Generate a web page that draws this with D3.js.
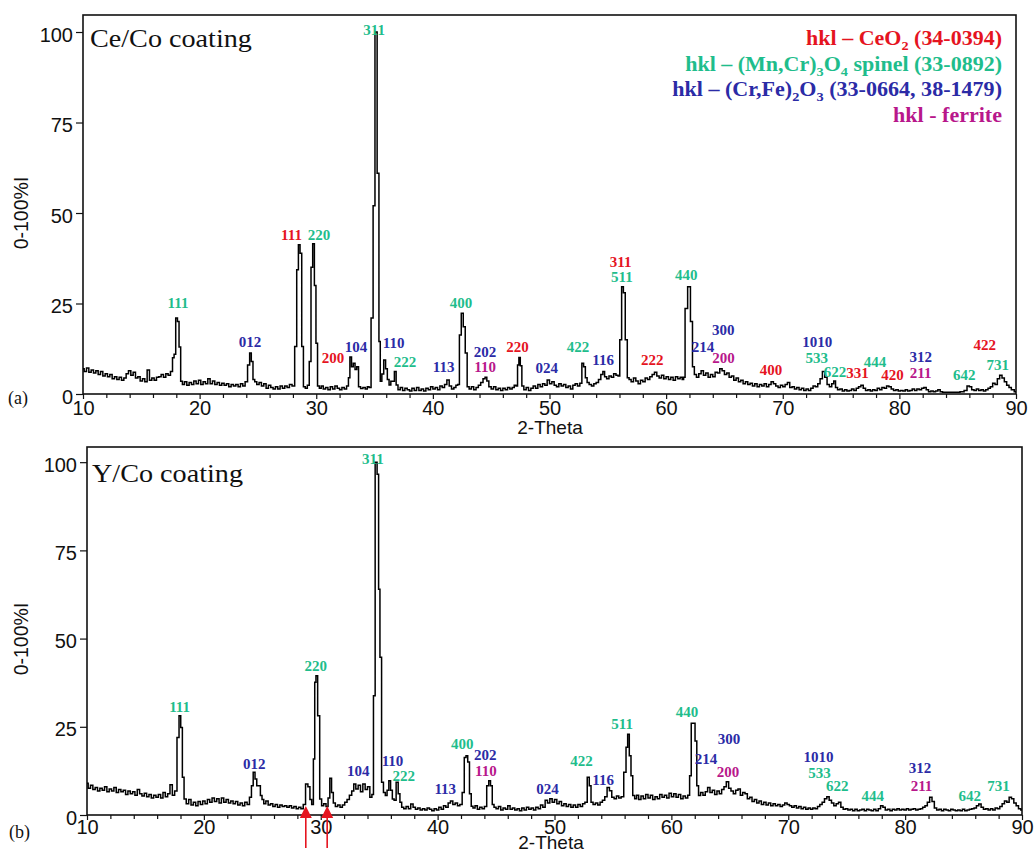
<!DOCTYPE html>
<html><head><meta charset="utf-8">
<script src="https://cdn.jsdelivr.net/npm/d3@7"></script>
<style>
body{margin:0;background:#fff}
svg{display:block}
.tick line{stroke:#111;stroke-width:1.2}
.tick text{font-family:"Liberation Sans",Arial,sans-serif;font-size:20px;fill:#111}
</style></head>
<body><svg id="chart" width="1034" height="854"></svg>
<script>
// ---------- data ----------
const xTickLabels = [10,20,30,40,50,60,70,80,90];
const xMinorTicks = [12,14,16,18,22,24,26,28,32,34,36,38,42,44,46,48,52,54,56,58,62,64,66,68,72,74,76,78,82,84,86,88];
const yTickLabels = [0,25,50,75,100];

// panel (a) Ce/Co coating : [2-theta, intensity %]
const scanA = [
[10.0,7.0],[10.2,6.2],[10.4,7.2],[10.6,6.0],[10.8,6.6],[11.0,5.8],[11.2,6.4],[11.4,5.4],[11.6,6.2],[11.8,5.0],
[12.0,5.6],[12.2,4.8],[12.4,5.4],[12.6,4.2],[12.8,4.8],[13.0,4.0],[13.2,4.6],[13.4,3.8],[13.6,4.4],[13.8,5.6],
[14.0,6.4],[14.2,5.2],[14.4,6.0],[14.6,4.4],[14.8,4.8],[15.0,3.6],[15.2,4.2],[15.4,3.4],[15.6,6.6],[15.8,3.8],
[16.0,4.4],[16.2,3.8],[16.4,4.6],[16.6,4.8],[16.8,5.4],[17.0,4.6],[17.2,5.6],[17.4,5.2],[17.6,6.2],[17.75,10],
[17.87,11],[18.03,21],[18.17,20],[18.3,13],[18.45,3.5],[18.6,2.6],[18.8,3.4],[19.0,2.4],[19.2,3.2],[19.4,2.6],
[19.6,3.6],[19.8,2.8],[20.0,3.8],[20.2,2.6],[20.4,3.4],[20.6,2.8],[20.8,4.2],[21.0,2.8],[21.2,3.6],[21.4,2.6],
[21.6,3.2],[21.8,2.4],[22.0,3.0],[22.2,2.4],[22.4,2.8],[22.6,2.0],[22.8,2.6],[23.0,2.2],[23.2,2.6],[23.4,2.0],
[23.6,2.8],[23.8,2.2],[24.0,3.4],[24.22,8.0],[24.36,11.3],[24.5,9.0],[24.65,4.0],[24.8,3.4],[25.0,2.6],[25.2,3.2],
[25.4,2.2],[25.6,2.8],[25.8,1.6],[26.0,2.4],[26.2,1.8],[26.4,1.4],[26.6,2.0],[26.8,1.4],[27.0,2.2],[27.2,1.6],
[27.4,2.2],[27.6,1.8],[27.8,2.6],[28.05,2.2],[28.25,13.1],[28.4,34.3],[28.54,41.2],[28.68,38.9],[28.83,13.1],[28.97,2.0],
[29.15,1.6],[29.32,2.4],[29.48,9],[29.62,35],[29.77,41.5],[29.91,30],[30.04,14],[30.18,2.2],[30.35,1.6],[30.5,2.2],
[30.7,1.4],[30.9,1.8],[31.1,1.2],[31.3,2.0],[31.5,1.4],[31.7,2.2],[31.9,1.6],[32.1,1.2],[32.3,1.8],[32.5,1.4],
[32.7,2.2],[32.82,4.5],[32.95,10.2],[33.1,7.5],[33.25,8.5],[33.4,6.8],[33.55,7.5],[33.7,2.0],[33.9,1.5],[34.1,1.8],
[34.3,1.4],[34.45,2.0],[34.6,1.8],[34.8,21],[34.95,52],[35.12,100],[35.32,61],[35.43,14.5],[35.55,3.5],[35.7,5.5],
[35.87,9.4],[36.02,7.0],[36.17,4.0],[36.32,2.5],[36.47,3.5],[36.62,3.5],[36.78,6.2],[36.92,2.5],[37.1,1.2],[37.3,1.8],
[37.5,1.0],[37.7,1.6],[37.9,1.2],[38.1,0.8],[38.3,1.6],[38.5,1.0],[38.7,1.8],[38.9,1.0],[39.1,1.4],[39.3,0.8],
[39.5,1.6],[39.7,1.2],[39.9,2.0],[40.1,1.4],[40.3,1.8],[40.5,1.2],[40.7,2.2],[40.9,1.8],[41.1,2.6],[41.3,3.9],
[41.5,2.2],[41.7,1.4],[41.9,1.8],[42.05,2.4],[42.2,2.6],[42.35,16.3],[42.52,22.3],[42.69,18.6],[42.86,11.3],[43.02,2.0],
[43.2,1.4],[43.4,2.0],[43.6,1.2],[43.8,1.8],[44.0,2.4],[44.2,3.2],[44.4,4.2],[44.55,4.6],[44.7,3.6],[44.9,2.0],
[45.1,1.4],[45.3,2.0],[45.5,1.2],[45.7,1.6],[45.9,1.0],[46.1,1.6],[46.3,1.2],[46.5,1.8],[46.7,1.4],[46.9,1.8],
[47.05,2.4],[47.2,2.2],[47.32,8.0],[47.43,10.1],[47.56,7.8],[47.7,2.2],[47.9,1.2],[48.1,1.8],[48.3,1.0],[48.5,1.6],
[48.7,2.2],[48.9,1.6],[49.1,2.6],[49.3,2.0],[49.5,2.8],[49.7,2.4],[49.9,3.9],[50.1,2.8],[50.3,3.4],[50.5,2.4],
[50.7,2.0],[50.9,2.8],[51.1,2.2],[51.3,2.6],[51.5,1.8],[51.7,2.2],[51.9,1.4],[52.1,2.4],[52.3,2.8],[52.5,2.2],
[52.7,3.0],[52.85,8.5],[53.0,7.5],[53.15,4.5],[53.3,3.2],[53.5,2.6],[53.7,2.2],[53.9,2.8],[54.1,3.2],[54.3,4.0],
[54.5,5.4],[54.65,6.2],[54.8,4.8],[55.0,4.2],[55.2,5.0],[55.4,4.6],[55.6,5.6],[55.8,5.2],[55.95,5.0],[56.1,15],
[56.27,29.6],[56.4,28],[56.59,15],[56.75,4.5],[56.9,4.0],[57.1,3.4],[57.3,4.4],[57.5,3.6],[57.7,2.8],[57.9,3.8],
[58.1,3.4],[58.3,4.4],[58.5,4.0],[58.7,4.8],[58.9,5.4],[59.1,6.0],[59.3,5.0],[59.5,4.4],[59.7,5.2],[59.9,4.2],
[60.1,4.8],[60.3,4.0],[60.5,4.6],[60.7,3.8],[60.9,4.8],[61.1,4.2],[61.3,4.6],[61.45,4.0],[61.55,4.6],[61.7,23.6],
[61.99,29.6],[62.18,20],[62.34,7.5],[62.5,5.4],[62.7,4.6],[62.9,5.6],[63.1,6.4],[63.3,5.2],[63.5,5.8],[63.7,4.6],
[63.9,5.4],[64.1,4.8],[64.3,6.0],[64.5,5.8],[64.7,7.0],[64.9,6.4],[65.1,5.4],[65.3,5.8],[65.5,4.6],[65.7,5.0],
[65.9,3.8],[66.1,4.4],[66.3,3.4],[66.5,3.8],[66.7,2.8],[66.9,3.4],[67.1,2.6],[67.3,3.0],[67.5,2.2],[67.7,2.8],
[67.9,2.0],[68.1,2.6],[68.3,2.2],[68.5,2.8],[68.7,2.0],[68.9,2.6],[69.1,3.4],[69.3,2.8],[69.5,2.2],[69.7,1.8],
[69.9,2.4],[70.1,2.0],[70.3,2.6],[70.5,3.2],[70.7,1.8],[70.9,2.0],[71.1,1.4],[71.3,1.8],[71.5,1.2],[71.7,1.6],
[71.9,1.0],[72.1,1.4],[72.3,1.0],[72.5,1.6],[72.7,2.2],[72.9,2.0],[73.1,2.8],[73.3,4.2],[73.5,6.2],[73.7,4.6],
[73.9,2.6],[74.1,2.0],[74.3,2.8],[74.45,3.6],[74.6,1.8],[74.8,1.2],[75.0,1.4],[75.2,0.8],[75.4,1.2],[75.6,0.8],
[75.8,1.0],[76.0,1.4],[76.2,1.0],[76.4,1.6],[76.6,2.0],[76.8,2.4],[77.0,1.6],[77.2,1.0],[77.4,1.2],[77.6,0.8],
[77.8,1.2],[78.0,1.0],[78.2,1.6],[78.4,1.2],[78.6,1.8],[78.8,1.6],[79.0,2.2],[79.2,2.0],[79.4,1.4],[79.6,1.0],
[79.8,1.2],[80.0,0.8],[80.2,1.0],[80.4,0.8],[80.6,1.2],[80.8,0.8],[81.0,1.0],[81.2,1.4],[81.4,1.0],[81.6,1.4],
[81.8,1.2],[82.0,1.6],[82.2,1.8],[82.4,1.2],[82.6,0.6],[82.8,0.8],[83.0,0.6],[83.2,0.8],[83.4,1.2],[83.6,0.6],
[83.8,0.5],[84.2,0.5],[84.6,0.5],[85.0,0.5],[85.4,0.6],[85.7,1.0],[85.9,2.2],[86.1,2.0],[86.3,1.2],[86.5,1.0],
[86.7,1.4],[86.9,1.0],[87.1,1.2],[87.3,0.8],[87.5,1.2],[87.7,1.6],[87.9,2.0],[88.1,3.0],[88.3,2.6],[88.5,4.2],
[88.7,5.2],[88.9,4.4],[89.1,3.4],[89.3,2.4],[89.5,1.8],[89.7,1.2],[90.0,0.6]
];

// panel (b) Y/Co coating : [2-theta, intensity %]
const scanB = [
[10.0,9.0],[10.2,7.6],[10.4,8.4],[10.6,7.2],[10.8,7.8],[11.0,6.8],[11.2,7.6],[11.4,7.0],[11.6,8.0],[11.8,6.6],
[12.0,7.4],[12.2,6.8],[12.4,7.8],[12.6,6.4],[12.8,7.2],[13.0,6.6],[13.2,7.0],[13.4,5.8],[13.6,6.8],[13.8,6.0],
[14.0,6.6],[14.2,5.6],[14.4,7.2],[14.6,6.0],[14.8,5.4],[15.0,6.2],[15.2,5.2],[15.4,5.8],[15.6,4.8],[15.8,5.6],
[16.0,5.0],[16.2,5.8],[16.4,4.8],[16.6,6.4],[16.8,5.2],[17.0,6.0],[17.2,8.6],[17.4,5.6],[17.6,6.8],[17.8,22],
[17.95,28.1],[18.09,24.8],[18.23,10.7],[18.38,4.5],[18.6,3.2],[18.8,4.4],[19.0,2.8],[19.2,3.6],[19.4,2.6],[19.6,3.8],
[19.8,3.0],[20.0,4.0],[20.2,3.2],[20.4,4.4],[20.6,3.6],[20.8,4.8],[21.0,3.8],[21.2,4.6],[21.4,3.4],[21.6,4.8],
[21.8,3.6],[22.0,4.4],[22.2,3.4],[22.4,4.0],[22.6,3.2],[22.8,3.8],[23.0,2.8],[23.2,3.4],[23.4,2.6],[23.6,3.6],
[23.8,3.0],[24.0,5.0],[24.14,8.3],[24.3,12.1],[24.45,10.2],[24.6,8.3],[24.77,8.3],[24.9,5.5],[25.05,4.4],[25.2,3.2],
[25.4,4.0],[25.6,2.8],[25.8,3.2],[26.0,2.4],[26.2,3.0],[26.4,2.2],[26.6,2.8],[26.8,2.4],[27.0,2.6],[27.2,2.2],
[27.4,2.6],[27.6,2.0],[27.8,2.4],[28.0,1.8],[28.2,2.2],[28.4,1.8],[28.6,3.0],[28.8,8.8],[29.0,8.0],[29.15,4.4],
[29.3,3.0],[29.44,15.9],[29.53,37.6],[29.65,39.5],[29.82,28.1],[30.0,4.5],[30.15,2.6],[30.35,3.2],[30.55,2.4],[30.7,4.8],
[30.85,10.4],[31.0,6.4],[31.15,3.4],[31.35,2.4],[31.55,2.8],[31.75,2.2],[31.95,2.8],[32.15,3.6],[32.35,4.4],[32.55,5.6],
[32.75,6.8],[32.9,8.8],[33.1,7.4],[33.3,8.4],[33.5,6.6],[33.7,8.8],[33.9,7.2],[34.1,8.0],[34.3,5.0],[34.45,5.8],
[34.57,33.8],[34.74,100],[34.9,96.6],[35.0,64],[35.13,44.7],[35.28,9.3],[35.45,6.4],[35.6,5.5],[35.75,7.0],[35.9,9.7],
[36.05,7.0],[36.2,4.5],[36.35,4.2],[36.55,9.3],[36.7,6.0],[36.85,3.6],[37.0,2.2],[37.2,1.8],[37.4,2.4],[37.6,1.8],
[37.8,3.1],[38.0,2.2],[38.2,1.6],[38.4,2.0],[38.6,1.4],[38.8,1.8],[39.0,1.4],[39.2,2.0],[39.4,1.6],[39.6,1.2],
[39.8,1.8],[40.0,1.4],[40.2,2.2],[40.4,1.6],[40.6,2.6],[40.8,2.2],[41.0,3.4],[41.2,4.0],[41.4,3.0],[41.6,3.4],
[41.8,2.6],[42.0,3.0],[42.2,6.4],[42.36,16.3],[42.5,16.8],[42.65,15.0],[42.8,6.0],[42.95,2.5],[43.1,2.0],[43.3,2.6],
[43.5,1.6],[43.7,2.2],[43.9,1.8],[44.1,2.4],[44.3,8.3],[44.45,9.7],[44.6,8.3],[44.75,3.0],[44.9,2.2],[45.1,1.8],
[45.3,2.4],[45.5,1.4],[45.7,2.0],[45.9,1.6],[46.1,2.6],[46.3,1.6],[46.5,2.0],[46.7,1.4],[46.9,1.8],[47.1,1.2],
[47.3,2.0],[47.5,1.4],[47.7,2.2],[47.9,1.6],[48.1,2.0],[48.3,1.4],[48.5,2.2],[48.7,1.8],[48.9,2.8],[49.1,2.2],
[49.3,4.2],[49.5,3.4],[49.7,4.6],[49.9,3.6],[50.1,4.4],[50.3,3.2],[50.5,3.8],[50.7,2.6],[50.9,3.2],[51.1,2.4],
[51.3,3.0],[51.5,2.2],[51.7,2.8],[51.9,2.2],[52.1,3.0],[52.3,2.4],[52.5,3.2],[52.7,3.6],[52.9,10.7],[53.05,8.3],
[53.2,3.6],[53.4,3.0],[53.6,3.4],[53.8,2.8],[54.0,3.6],[54.2,4.2],[54.4,5.2],[54.6,7.8],[54.8,6.9],[55.0,5.0],
[55.2,4.6],[55.4,5.4],[55.6,4.8],[55.8,5.2],[56.05,12.1],[56.19,19.2],[56.33,22.9],[56.47,16.8],[56.62,11.1],[56.77,5.5],
[56.95,4.6],[57.1,5.6],[57.3,4.4],[57.5,5.4],[57.7,4.6],[57.9,5.8],[58.1,4.8],[58.3,5.6],[58.5,4.4],[58.7,5.2],
[58.9,4.6],[59.1,5.8],[59.3,5.0],[59.5,5.6],[59.7,4.8],[59.9,6.2],[60.1,5.2],[60.3,6.0],[60.5,5.0],[60.7,5.8],
[60.9,4.6],[61.1,5.4],[61.3,4.8],[61.5,5.6],[61.62,11.1],[61.78,26],[61.95,26],[62.1,21],[62.25,8.3],[62.4,5.5],
[62.6,6.4],[62.8,5.6],[63.0,6.6],[63.2,7.8],[63.4,6.4],[63.6,7.0],[63.8,5.8],[64.0,6.8],[64.2,6.0],[64.4,7.2],
[64.6,8.0],[64.8,9.4],[65.0,7.6],[65.2,6.8],[65.4,6.0],[65.6,7.0],[65.8,7.4],[66.0,5.6],[66.2,6.4],[66.4,6.0],
[66.6,4.6],[66.8,5.0],[67.0,3.8],[67.2,4.4],[67.4,3.4],[67.6,4.0],[67.8,3.0],[68.0,3.6],[68.2,2.8],[68.4,3.4],
[68.6,2.6],[68.8,3.2],[69.0,2.6],[69.2,3.0],[69.4,2.4],[69.6,2.8],[69.8,3.4],[70.0,3.0],[70.2,2.6],[70.4,2.2],
[70.6,2.6],[70.8,2.0],[71.0,2.4],[71.2,1.8],[71.4,2.2],[71.6,1.6],[71.8,2.0],[72.0,1.6],[72.2,2.0],[72.4,1.8],
[72.6,2.4],[72.8,3.0],[73.0,3.6],[73.2,4.6],[73.4,5.2],[73.6,4.2],[73.8,3.4],[74.0,2.6],[74.2,3.2],[74.4,3.6],
[74.6,2.2],[74.8,1.6],[75.0,1.8],[75.2,1.4],[75.4,1.6],[75.6,1.2],[75.8,1.6],[76.0,1.2],[76.2,1.4],[76.4,1.6],
[76.6,1.2],[76.8,1.6],[77.0,1.4],[77.2,1.2],[77.4,1.6],[77.6,1.2],[77.8,1.8],[78.0,2.6],[78.2,2.2],[78.4,1.4],
[78.6,1.6],[78.8,1.2],[79.0,1.6],[79.2,1.4],[79.4,1.8],[79.6,1.4],[79.8,1.6],[80.0,1.4],[80.2,1.8],[80.4,1.4],
[80.6,1.6],[80.8,1.8],[81.0,1.4],[81.2,1.6],[81.4,1.8],[81.6,2.2],[81.8,2.6],[82.0,3.6],[82.2,5.0],[82.4,3.8],
[82.6,2.0],[82.8,1.4],[83.0,1.6],[83.2,1.2],[83.4,1.6],[83.6,1.4],[83.8,1.2],[84.0,1.6],[84.2,1.4],[84.4,1.2],
[84.6,1.4],[84.8,1.2],[85.0,1.6],[85.2,1.2],[85.4,1.4],[85.6,1.6],[85.8,1.8],[86.0,2.0],[86.2,2.6],[86.4,3.1],
[86.6,2.2],[86.8,1.6],[87.0,1.8],[87.2,1.4],[87.4,1.8],[87.6,1.4],[87.8,2.0],[88.0,1.8],[88.2,2.4],[88.4,3.2],
[88.6,4.0],[88.8,3.6],[89.0,5.0],[89.2,4.6],[89.4,3.4],[89.6,2.6],[89.8,1.8],[90.0,1.4]
];

// hkl labels: [text, 2-theta, intensity level of baseline, phase]
const hklA = [
["111",18.15,23.8,"g"],["012",24.32,13.0,"b"],["111",27.88,42.5,"r"],["220",30.24,42.5,"g"],["200",31.44,8.6,"r"],
["104",33.41,11.6,"b"],["311",34.96,99.2,"g"],["110",36.63,12.7,"b"],["222",37.62,7.5,"g"],["113",40.92,6.1,"b"],
["400",42.42,23.8,"g"],["202",44.48,10.2,"b"],["110",44.48,6.1,"m"],["220",47.26,11.6,"r"],["024",49.77,5.8,"b"],
["422",52.45,11.6,"g"],["116",54.6,8.0,"b"],["311",56.1,35.1,"r"],["511",56.2,30.9,"g"],["222",58.8,8.0,"r"],
["440",61.72,31.5,"g"],["300",64.89,16.3,"b"],["214",63.17,11.6,"b"],["200",64.93,8.6,"m"],["400",69.0,5.2,"r"],
["1010",72.95,13.0,"b"],["533",72.92,8.6,"g"],["622",74.47,4.7,"g"],["331",76.42,4.4,"r"],["444",77.92,7.5,"g"],
["420",79.41,3.9,"r"],["312",81.83,8.8,"b"],["211",81.83,4.4,"m"],["642",85.56,3.9,"g"],["422",87.33,12.2,"r"],
["731",88.43,6.6,"g"]
];
const hklB = [
["111",17.92,29.1,"g"],["012",24.3,13.0,"b"],["220",29.58,40.9,"g"],["104",33.2,11.1,"b"],["311",34.46,99.4,"g"],
["110",36.14,14.0,"b"],["222",37.11,9.7,"g"],["113",40.65,5.9,"b"],["400",42.1,18.7,"g"],["202",44.08,15.7,"b"],
["110",44.13,11.1,"m"],["024",49.4,5.9,"b"],["422",52.32,13.8,"g"],["116",54.16,8.5,"b"],["511",55.79,24.4,"g"],
["440",61.33,27.7,"g"],["300",64.92,20.1,"b"],["214",62.97,14.4,"b"],["200",64.85,10.7,"m"],["1010",72.59,15.1,"b"],
["533",72.67,10.5,"g"],["622",74.2,6.9,"g"],["444",77.23,4.1,"g"],["312",81.27,11.9,"b"],["211",81.4,6.7,"m"],
["642",85.54,4.1,"g"],["731",87.98,6.7,"g"]
];
const arrowPositionsB = [28.72, 30.55];

const phaseColors = {r:"#e5141f", g:"#1fbd8c", b:"#2b2ba6", m:"#b8178b"};
const legendLines = [
  {c:"r", parts:[["hkl – CeO",0],["2",1],[" (34-0394)",0]], w:196},
  {c:"g", parts:[["hkl – (Mn,Cr)",0],["3",1],["O",0],["4",1],[" spinel (33-0892)",0]], w:317},
  {c:"b", parts:[["hkl – (Cr,Fe)",0],["2",1],["O",0],["3",1],[" (33-0664, 38-1479)",0]], w:330},
  {c:"m", parts:[["hkl - ferrite",0]], w:109}
];

// ---------- drawing ----------
const svg = d3.select("#chart");
svg.append("rect").attr("width",1034).attr("height",854).attr("fill","#fff");
const serif = '"Liberation Serif","Times New Roman",serif';
const sans = '"Liberation Sans",Arial,sans-serif';

function fitWidth(sel, target, tx, ty){
  const w = sel.node().getComputedTextLength();
  const s = target / w;
  sel.attr("transform", `translate(${tx},${ty}) scale(${s},1)`);
}

const panels = [
  {scan:scanA, hkl:hklA, title:"Ce/Co coating", titleW:162, tx:90, ty:47, tag:"(a)", tagX:8, tagY:404,
   left:83, right:1016, top:15, bottom:394, ymax:104.7, tickPad:2, xTitleY:434, xTitleX:550, yTitleY:213, arrows:[]},
  {scan:scanB, hkl:hklB, title:"Y/Co coating", titleW:151, tx:92, ty:482, tag:"(b)", tagX:9, tagY:838,
   left:87, right:1022, top:447, bottom:815, ymax:104.3, tickPad:0, xTitleY:849, xTitleX:551, yTitleY:639, arrows:arrowPositionsB}
];

panels.forEach(p => {
  const x = d3.scaleLinear().domain([10,90]).range([p.left, p.right]);
  const y = d3.scaleLinear().domain([0,p.ymax]).range([p.bottom, p.top]);
  const g = svg.append("g");

  // axes
  g.append("g").attr("transform",`translate(0,${p.bottom})`)
    .call(d3.axisBottom(x).tickValues(xMinorTicks).tickSize(4).tickFormat(""))
    .call(a=>a.select(".domain").remove());
  g.append("g").attr("transform",`translate(0,${p.bottom})`)
    .call(d3.axisBottom(x).tickValues(xTickLabels).tickSize(5).tickPadding(p.tickPad).tickFormat(d3.format("d")))
    .call(a=>a.select(".domain").remove());
  g.append("g").attr("transform",`translate(${p.left},0)`)
    .call(d3.axisLeft(y).tickValues(yTickLabels).tickSize(7).tickPadding(3))
    .call(a=>a.select(".domain").remove())
    .call(a=>a.selectAll("text").attr("dy","0.45em"));

  // frame
  g.append("rect").attr("x",p.left).attr("y",p.top)
    .attr("width",p.right-p.left).attr("height",p.bottom-p.top)
    .attr("fill","none").attr("stroke","#111").attr("stroke-width",1.6);

  // pattern
  const line = d3.line().x(d=>x(d[0])).y(d=>y(d[1])).curve(d3.curveStep);
  g.append("path").datum(p.scan).attr("d",line)
    .attr("fill","none").attr("stroke","#000").attr("stroke-width",1.5).attr("stroke-linejoin","miter");

  // hkl labels
  g.selectAll("text.hkl").data(p.hkl).join("text").attr("class","hkl")
    .attr("x",d=>x(d[1])).attr("y",d=>y(d[2]))
    .attr("text-anchor","middle")
    .attr("font-family",serif).attr("font-weight","bold").attr("font-size",15)
    .attr("fill",d=>phaseColors[d[3]]).text(d=>d[0]);

  // titles
  const t = g.append("text").attr("x",0).attr("y",0)
    .attr("font-family",serif).attr("font-size",25).attr("fill","#111").text(p.title);
  fitWidth(t, p.titleW, p.tx, p.ty);

  g.append("text").attr("x",p.tagX).attr("y",p.tagY)
    .attr("font-family",serif).attr("font-size",18).attr("fill","#111").text(p.tag);

  g.append("text").attr("x",p.xTitleX).attr("y",p.xTitleY)
    .attr("text-anchor","middle").attr("font-family",sans).attr("font-size",19)
    .attr("fill","#111").text("2-Theta");

  g.append("text").attr("transform",`translate(28,${p.yTitleY}) rotate(-90)`)
    .attr("text-anchor","middle").attr("font-family",sans).attr("font-size",19.5)
    .attr("fill","#111").text("0-100%I");

  // red arrows
  p.arrows.forEach(a => {
    const ax = x(a);
    g.append("line").attr("x1",ax).attr("x2",ax).attr("y1",p.bottom+3).attr("y2",848)
      .attr("stroke","#e5141f").attr("stroke-width",1.6);
    g.append("path").attr("d",`M${ax},${p.bottom-9}L${ax-6},${p.bottom+3}L${ax+6},${p.bottom+3}Z`)
      .attr("fill","#e5141f");
  });
});

// legend (panel a)
legendLines.forEach((L,i) => {
  const t = svg.append("text").attr("x",0).attr("y",0).attr("text-anchor","end")
    .attr("font-family",serif).attr("font-weight","bold").attr("font-size",20)
    .attr("fill",phaseColors[L.c]);
  let shifted = false;
  L.parts.forEach(([s,sub]) => {
    const ts = t.append("tspan").text(s);
    if (sub && !shifted){ ts.attr("dy",5).attr("font-size",13); shifted = true; }
    else if (sub && shifted){ ts.attr("font-size",13); }
    else if (!sub && shifted){ ts.attr("dy",-5); shifted = false; }
  });
  fitWidth(t, L.w, 1002, 45 + i*25.7);
});
</script>
</body></html>
